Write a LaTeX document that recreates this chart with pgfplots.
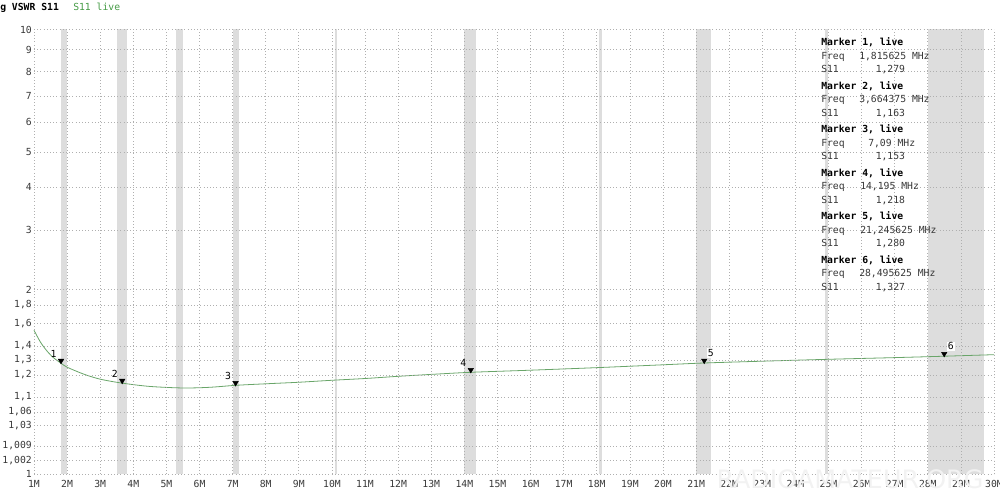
\documentclass[border=0pt]{standalone}
\usepackage{fontspec}
\setmainfont{DejaVu Sans Mono}
\newfontfamily\wmfont{DejaVu Sans}
\usepackage{pgfplots}
\pgfplotsset{compat=1.18}

\definecolor{band}{RGB}{221,221,221}
\definecolor{gridc}{RGB}{175,175,175}
\definecolor{curvec}{RGB}{105,165,105}
\definecolor{livegreen}{RGB}{70,155,70}
\definecolor{labc}{RGB}{55,55,55}

% VSWR scale of the analyser: piecewise linear between its grid values
\pgfmathdeclarefunction{vs}{1}{%
  \pgfmathparse{6750*(min(max(#1,1),1.002)-1)
   +2071.43*(min(max(#1,1.002),1.009)-1.002)
   +976.19*(min(max(#1,1.009),1.03)-1.009)
   +450*(min(max(#1,1.03),1.06)-1.03)
   +375*(min(max(#1,1.06),1.1)-1.06)
   +220*(min(max(#1,1.1),1.2)-1.1)
   +150*(min(max(#1,1.2),1.3)-1.2)
   +140*(min(max(#1,1.3),1.4)-1.3)
   +112.5*(min(max(#1,1.4),1.6)-1.4)
   +92.5*(min(max(#1,1.6),1.8)-1.6)
   +77.5*(min(max(#1,1.8),2)-1.8)
   +59.5*(min(max(#1,2),3)-2)
   +43*(min(max(#1,3),4)-3)
   +35*(min(max(#1,4),5)-4)
   +30*(min(max(#1,5),6)-5)
   +26*(min(max(#1,6),7)-6)
   +24.5*(min(max(#1,7),8)-7)
   +22*(min(max(#1,8),9)-8)
   +20*(min(max(#1,9),10)-9)}%
}
\newcommand\fsz{\fontsize{7.3}{9}\selectfont}

\begin{document}
\begin{tikzpicture}
\useasboundingbox (0,0) rectangle (750pt,371.25pt);

\begin{axis}[
  at={(25.5pt,15.75pt)}, anchor=south west,
  scale only axis, width=720pt, height=333.375pt,
  xmin=1, xmax=30, ymin=1, ymax=10,
  y coord trafo/.code={\pgfmathparse{vs(#1)}},
  xtick={1,...,30},
  xticklabels={1M,2M,3M,4M,5M,6M,7M,8M,9M,10M,11M,12M,13M,14M,15M,16M,17M,18M,19M,20M,21M,22M,23M,24M,25M,26M,27M,28M,29M,30M},
  ytick={1,1.002,1.009,1.03,1.06,1.1,1.2,1.3,1.4,1.6,1.8,2,3,4,5,6,7,8,9,10},
  yticklabels={1,{1,002},{1,009},{1,03},{1,06},{1,1},{1,2},{1,3},{1,4},{1,6},{1,8},2,3,4,5,6,7,8,9,10},
  grid=major, major grid style={gridc, dotted, line width=0.5pt},
  axis line style={draw=none}, major tick length=0pt,
  tick label style={font=\fsz, text=labc},
  yticklabel style={inner xsep=1.5pt},
  xticklabel style={yshift=-1.5pt},
  axis on top, clip=false,
]
% amateur bands
\addplot[fill=band, draw=none] coordinates {(1.81,1)(2.0,1)(2.0,10)(1.81,10)} -- cycle;
\addplot[fill=band, draw=none] coordinates {(3.5,1)(3.8,1)(3.8,10)(3.5,10)} -- cycle;
\addplot[fill=band, draw=none] coordinates {(5.3,1)(5.5,1)(5.5,10)(5.3,10)} -- cycle;
\addplot[fill=band, draw=none] coordinates {(7.0,1)(7.2,1)(7.2,10)(7.0,10)} -- cycle;
\addplot[fill=band, draw=none] coordinates {(10.1,1)(10.15,1)(10.15,10)(10.1,10)} -- cycle;
\addplot[fill=band, draw=none] coordinates {(14.0,1)(14.35,1)(14.35,10)(14.0,10)} -- cycle;
\addplot[fill=band, draw=none] coordinates {(18.068,1)(18.168,1)(18.168,10)(18.068,10)} -- cycle;
\addplot[fill=band, draw=none] coordinates {(21.0,1)(21.45,1)(21.45,10)(21.0,10)} -- cycle;
\addplot[fill=band, draw=none] coordinates {(24.89,1)(24.99,1)(24.99,10)(24.89,10)} -- cycle;
\addplot[fill=band, draw=none] coordinates {(28.0,1)(29.7,1)(29.7,10)(28.0,10)} -- cycle;

% S11 live
\addplot[curvec, line width=0.6pt, smooth] coordinates {
 (1.0,1.540)(1.2,1.432)(1.4,1.362)(1.6,1.314)(1.815625,1.279)(2.0,1.252)
 (2.5,1.206)(3.0,1.181)(3.664375,1.163)(4.5,1.148)(5.5,1.141)(6.3,1.144)
 (7.09,1.153)(8,1.160)(9,1.167)(10,1.176)(11,1.184)(12,1.194)(13,1.204)
 (14.195,1.218)(16,1.232)(18,1.249)(20,1.268)(21.245625,1.280)(23,1.292)
 (25,1.305)(27,1.317)(28.495625,1.327)(30,1.338)};

% markers
\addplot[only marks, mark=triangle*, mark size=2.3pt,
  mark options={yshift=1.8pt, rotate=180, fill=black, draw=black},
  nodes near coords, point meta=explicit symbolic,
  nodes near coords style={font=\fsz, text=black, anchor=center, xshift=-5.6pt, yshift=5.2pt}]
  coordinates {(1.815625,1.279)[1] (3.664375,1.163)[2] (7.09,1.153)[3] (14.195,1.218)[4]};
\addplot[only marks, mark=triangle*, mark size=2.3pt,
  mark options={yshift=1.8pt, rotate=180, fill=black, draw=black},
  nodes near coords, point meta=explicit symbolic,
  nodes near coords style={font=\fsz, text=black, fill=white, inner sep=0.8pt, anchor=center, xshift=5pt, yshift=5.6pt}]
  coordinates {(21.245625,1.280)[5] (28.495625,1.327)[6]};
\end{axis}

\begin{scope}[x=0.75pt, y=-0.75pt, yshift=371.25pt]
  \node[anchor=base west, inner sep=0, font=\bfseries\fsz] at (0,10.5) {g VSWR S11};
  \node[anchor=base west, inner sep=0, font=\fsz, text=livegreen] at (73,10.5) {S11 live};
  \node[anchor=base, inner sep=0, font=\wmfont\fontsize{19}{20}\selectfont, text=black!5] at (850,489) {RADIOAMATEUR.ORG};
  \foreach \k/\f/\fx/\s in {1/{1,815625 MHz}/859/{1,279},
                            2/{3,664375 MHz}/859/{1,163},
                            3/{7,09 MHz}/868/{1,153},
                            4/{14,195 MHz}/860/{1,218},
                            5/{21,245625 MHz}/860/{1,280},
                            6/{28,495625 MHz}/859/{1,327}}{
    \pgfmathsetmacro\yb{46+43.5*(\k-1)}
    \node[anchor=base west, inner sep=0, font=\bfseries\fsz] at (821,\yb) {Marker \k, live};
    \node[anchor=base west, inner sep=0, font=\fsz, text=labc] at (821,\yb+13.5) {Freq};
    \node[anchor=base west, inner sep=0, font=\fsz, text=labc] at (\fx,\yb+13.5) {\f};
    \node[anchor=base west, inner sep=0, font=\fsz, text=labc] at (821,\yb+27) {S11};
    \node[anchor=base west, inner sep=0, font=\fsz, text=labc] at (875.5,\yb+27) {\s};
  }
\end{scope}
\end{tikzpicture}
\end{document}
